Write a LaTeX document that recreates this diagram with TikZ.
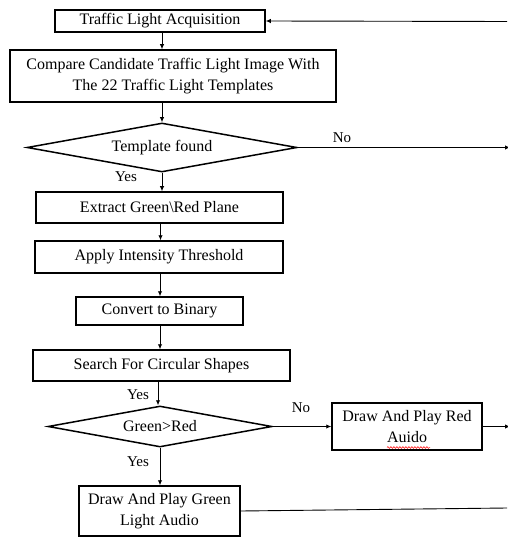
\documentclass[tikz,border=0pt]{standalone}
\usepackage{fontspec}
\setmainfont{Liberation Serif}
\usetikzlibrary{shapes.geometric,arrows.meta,decorations.pathmorphing}
\begin{document}
\begin{tikzpicture}[x=1pt,y=-1pt,
 box/.style={draw,line width=1.5pt,inner sep=0pt,align=center,font=\fontsize{16}{20.5}\selectfont},
 dia/.style={draw,diamond,aspect=5.5,line width=1.5pt,inner sep=0pt,font=\fontsize{16}{20}\selectfont},
 conn/.style={line width=0.9pt,-{Latex[length=5pt,width=4.5pt]}},
 plain/.style={line width=0.9pt},
 lab/.style={font=\fontsize{15}{18}\selectfont,inner sep=0pt}]
\useasboundingbox (0,0) rectangle (507,537);
\node[box,minimum width=210pt,minimum height=22pt] (b1) at (160,21) {Traffic Light Acquisition};
\node[box,minimum width=326pt,minimum height=52pt] (b2) at (173,76) {Compare Candidate Traffic Light Image With\\The 22 Traffic Light Templates};
\node[dia,minimum width=270pt,minimum height=49pt] (d1) at (162,147.5) {Template found};
\node[box,minimum width=247pt,minimum height=31pt] (b3) at (159.5,207.5) {Extract Green\textbackslash Red Plane};
\node[box,minimum width=248pt,minimum height=32pt] (b4) at (159,257) {Apply Intensity Threshold};
\node[box,minimum width=167pt,minimum height=28pt] (b5) at (159.5,311) {Convert to Binary};
\node[box,minimum width=257pt,minimum height=31pt] (b6) at (161.5,365.5) {Search For Circular Shapes};
\node[dia,minimum width=224pt,minimum height=41pt] (d2) at (160,426.5) {Green>Red};
\node[box,minimum width=150pt,minimum height=47pt] (b7) at (407,426.5) {Draw And Play Red\\Auido};
\node[box,minimum width=161pt,minimum height=50pt] (b8) at (159.5,511) {Draw And Play Green\\Light Audio};
\coordinate (r0) at (507,21.5);
\coordinate (r1) at (510,147.5);
\coordinate (r2) at (510,426.5);
\coordinate (r3) at (507,508);
\coordinate (x1) at (162,0);
\coordinate (x2) at (160.5,0);
\coordinate (x3) at (158,0);
\coordinate (x4) at (160,0);
\draw[conn] (r0) -- (b1.east);
\draw[conn] (b1.south -| x1) -- (b2.north -| x1);
\draw[conn] (b2.south -| x1) -- (d1.north);
\draw[conn] (d1.east) -- (r1);
\draw[conn] (d1.south) -- (b3.north -| d1.south);
\draw[conn] (b3.south -| x2) -- (b4.north -| x2);
\draw[conn] (b4.south -| x4) -- (b5.north -| x4);
\draw[conn] (b5.south -| x4) -- (b6.north -| x4);
\draw[conn] (b6.south -| x3) -- (d2.north -| x3);
\draw[conn] (d2.east) -- (b7.west);
\draw[conn] (b7.east) -- (r2);
\draw[conn] (d2.south) -- (b8.north -| d2.south);
\draw[plain] (b8.east) -- (r3);
\draw[red,line width=0.5pt,decorate,decoration={snake,amplitude=0.9pt,segment length=3pt}] (387,447.5) -- (430,447.5);
\node[lab] (n1) at (342,138) {No};
\node[lab] (y1) at (126,177) {Yes};
\node[lab] (y2) at (138,395) {Yes};
\node[lab] (n2) at (301,408) {No};
\node[lab] (y3) at (138,462) {Yes};
\end{tikzpicture}
\end{document}
